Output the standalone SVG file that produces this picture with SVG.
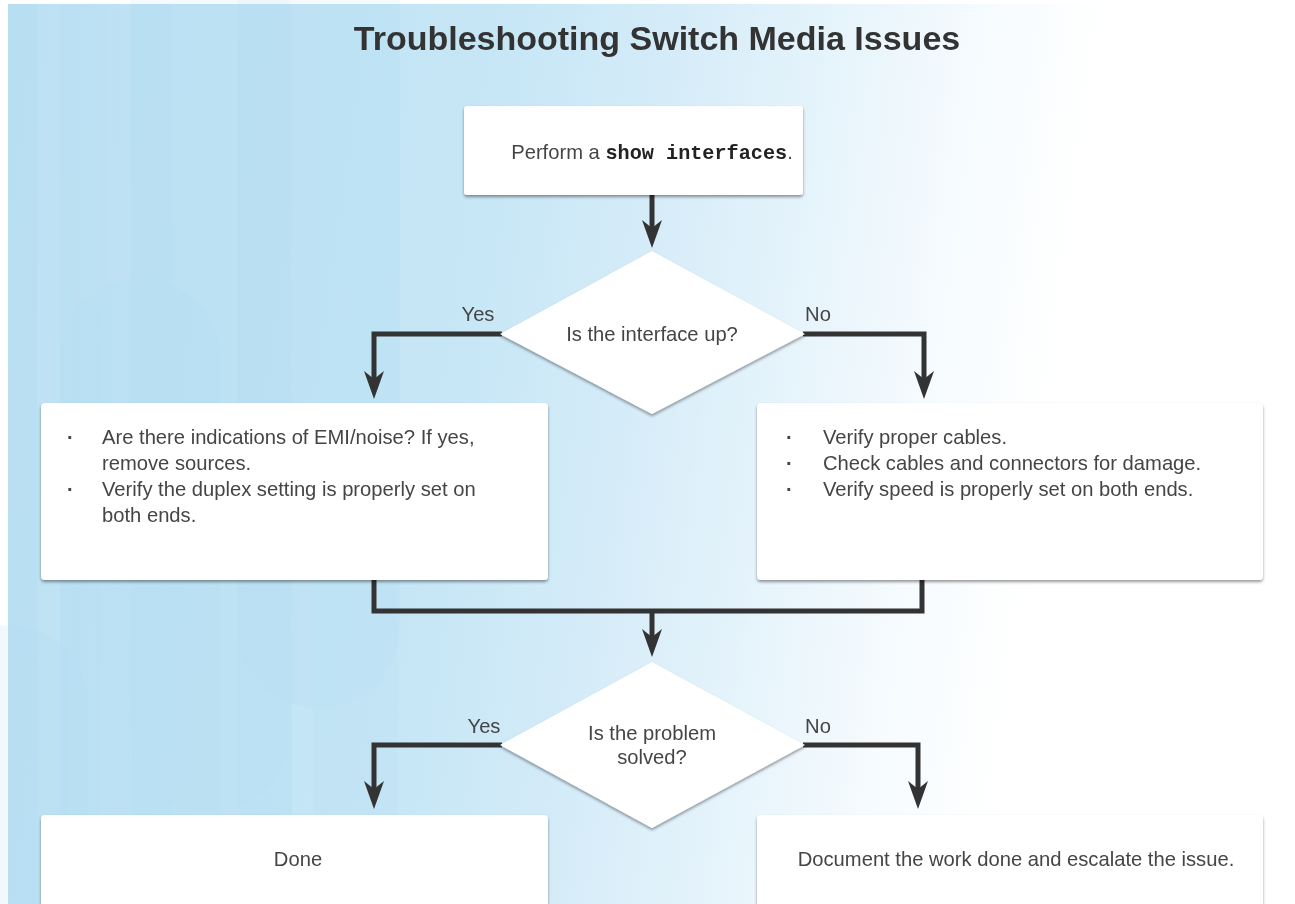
<svg xmlns="http://www.w3.org/2000/svg" width="1295" height="904" viewBox="0 0 1295 904">
  <defs>
    <linearGradient id="bg" gradientUnits="userSpaceOnUse" x1="8" y1="0" x2="1150" y2="160">
      <stop offset="0" stop-color="#bde1f3"/>
      <stop offset="0.42" stop-color="#c6e6f6"/>
      <stop offset="0.56" stop-color="#d3ebf8"/>
      <stop offset="0.7" stop-color="#e4f3fb"/>
      <stop offset="0.84" stop-color="#f6fbfe"/>
      <stop offset="0.95" stop-color="#ffffff"/>
    </linearGradient>
    <linearGradient id="fade" x1="0" y1="0" x2="1" y2="0">
      <stop offset="0" stop-color="#a6d6ef" stop-opacity="1"/>
      <stop offset="1" stop-color="#a6d6ef" stop-opacity="0"/>
    </linearGradient>
    <filter id="sh" x="-5%" y="-10%" width="110%" height="130%">
      <feDropShadow dx="0" dy="2" stdDeviation="1.6" flood-color="#000" flood-opacity="0.4"/>
    </filter>
    <marker id="arr" markerUnits="userSpaceOnUse" markerWidth="30" markerHeight="22" viewBox="0 0 30 22" refX="8" refY="11" orient="auto">
      <path d="M0,1 L28,11 L0,21 L8,11 Z" fill="#333333"/>
    </marker>
    <style>
      .box { fill: #ffffff; filter: url(#sh); }
      .t { font-family: "Liberation Sans", Arial, sans-serif; font-size: 20.2px; fill: #454545; }
      .c { text-anchor: middle; }
      .mono { font-family: "Liberation Mono", "Courier New", monospace; font-weight: bold; fill: #222; }
      .title { font-family: "Liberation Sans", Arial, sans-serif; font-size: 34px; font-weight: bold; fill: #333333; text-anchor: middle; }
      .conn { fill: none; stroke: #333333; stroke-width: 5; stroke-linejoin: miter; }
      .bul { font-family: "Liberation Sans", Arial, sans-serif; font-size: 20px; font-weight: bold; fill: #454545; }
    </style>
  </defs>

  <g id="background">
    <rect x="0" y="0" width="1295" height="904" fill="#ffffff"/>
    <rect x="8" y="4" width="1287" height="900" fill="url(#bg)"/>
    <g opacity="0.35">
      <rect x="8" y="4" width="29" height="900" fill="#a6d6ef" opacity="0.5"/>
      <rect x="60" y="4" width="70" height="900" fill="url(#fade)" opacity="0.5"/>
      <rect x="132" y="4" width="40" height="900" fill="#a6d6ef" opacity="0.7"/>
      <rect x="172" y="4" width="65" height="900" fill="#a6d6ef" opacity="0.3"/>
      <rect x="237" y="4" width="55" height="900" fill="#a6d6ef" opacity="0.55"/>
      <rect x="313" y="4" width="84" height="900" fill="#a6d6ef" opacity="0.35"/>
      <rect x="60" y="278" width="160" height="700" rx="80" fill="#a6d6ef" opacity="0.45"/>
      <rect x="-72" y="625" width="160" height="400" rx="80" fill="#a6d6ef" opacity="0.45"/>
      <rect x="130" y="-100" width="160" height="913" rx="80" fill="#a6d6ef" opacity="0.35"/>
      <rect x="237" y="-100" width="163" height="808" rx="81" fill="#a6d6ef" opacity="0.3"/>
    </g>
  </g>

  <text class="title" x="657" y="50">Troubleshooting Switch Media Issues</text>

  <g id="connectors">
    <path class="conn" d="M652,195 V228" marker-end="url(#arr)"/>
    <path class="conn" d="M502,334 H374 V379" marker-end="url(#arr)"/>
    <path class="conn" d="M803,334 H924 V379" marker-end="url(#arr)"/>
    <path class="conn" d="M374,580 V611 H922 V580"/>
    <path class="conn" d="M652,611 V637" marker-end="url(#arr)"/>
    <path class="conn" d="M502,745 H374 V789" marker-end="url(#arr)"/>
    <path class="conn" d="M803,745 H918 V789" marker-end="url(#arr)"/>
    <text class="t c" x="478" y="321">Yes</text>
    <text class="t c" x="818" y="321">No</text>
    <text class="t c" x="484" y="733">Yes</text>
    <text class="t c" x="818" y="733">No</text>
  </g>

  <g id="start">
    <rect class="box" x="464" y="106" width="339" height="89" rx="3"/>
    <text class="t c" x="652" y="159">Perform a <tspan class="mono">show interfaces</tspan>.</text>
  </g>

  <g id="decision1">
    <polygon class="box" points="652,251 805,334 652,414 500,334"/>
    <text class="t c" x="652" y="341">Is the interface up?</text>
  </g>

  <g id="yes-actions">
    <rect class="box" x="41" y="403" width="507" height="177" rx="4"/>
    <text class="bul" x="67" y="444">·</text>
    <text class="t" x="102" y="444">Are there indications of EMI/noise? If yes,</text>
    <text class="t" x="102" y="470">remove sources.</text>
    <text class="bul" x="67" y="496">·</text>
    <text class="t" x="102" y="496">Verify the duplex setting is properly set on</text>
    <text class="t" x="102" y="522">both ends.</text>
  </g>

  <g id="no-actions">
    <rect class="box" x="757" y="403" width="506" height="177" rx="4"/>
    <text class="bul" x="786" y="444">·</text>
    <text class="t" x="823" y="444">Verify proper cables.</text>
    <text class="bul" x="786" y="470">·</text>
    <text class="t" x="823" y="470">Check cables and connectors for damage.</text>
    <text class="bul" x="786" y="496">·</text>
    <text class="t" x="823" y="496">Verify speed is properly set on both ends.</text>
  </g>

  <g id="decision2">
    <polygon class="box" points="652,662 805,745 652,828 500,745"/>
    <text class="t c" x="652" y="740">Is the problem</text>
    <text class="t c" x="652" y="764">solved?</text>
  </g>

  <g id="done">
    <rect class="box" x="41" y="815" width="507" height="110" rx="4"/>
    <text class="t c" x="298" y="866">Done</text>
  </g>

  <g id="escalate">
    <rect class="box" x="757" y="815" width="506" height="110" rx="4"/>
    <text class="t c" x="1016" y="866">Document the work done and escalate the issue.</text>
  </g>
</svg>
